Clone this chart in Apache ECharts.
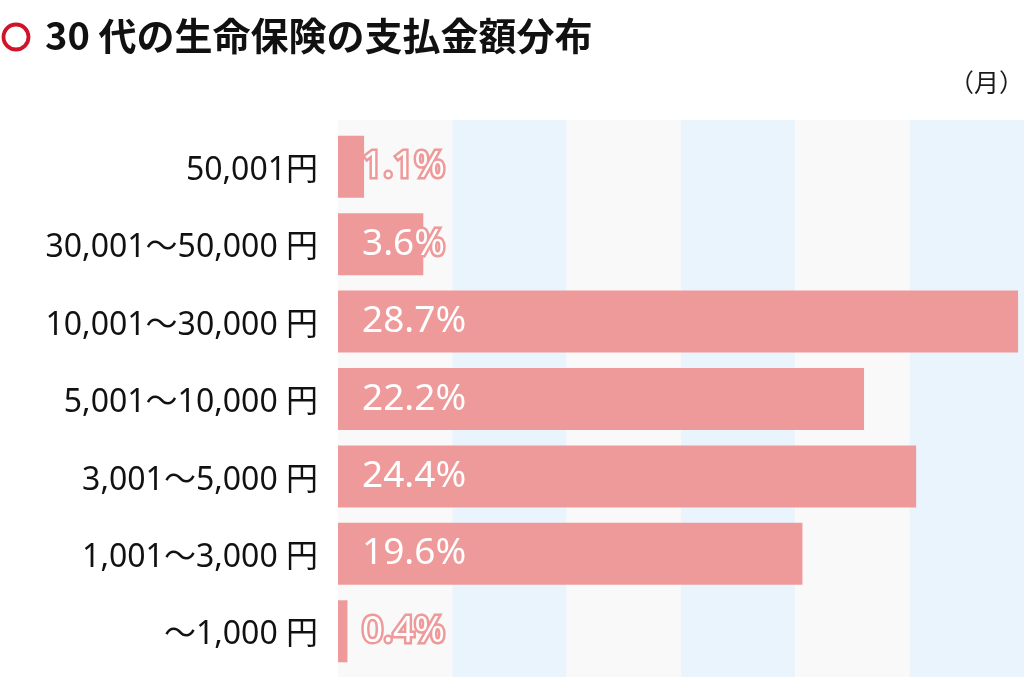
<!DOCTYPE html>
<html>
<head>
<meta charset="utf-8">
<script src="https://cdn.jsdelivr.net/npm/echarts@6/dist/echarts.min.js"></script>
<style>
html,body{margin:0;padding:0;background:#fff;}
#c{width:1024px;height:682px;}
</style>
</head>
<body>
<div id="c"></div>
<script>
const categories = ['50,001円', '30,001～50,000 円', '10,001～30,000 円', '5,001～10,000 円', '3,001～5,000 円', '1,001～3,000 円', '～1,000 円'];
const values = [1.1, 3.6, 28.7, 22.2, 24.4, 19.6, 0.4];
const titleText = '30 代の生命保険の支払金額分布';
const unitText = '（月）';

const AX_MAX = 28.95;
const BAND = AX_MAX / 6;
const FONT = '"Noto Sans", "Noto Sans CJK JP", sans-serif';
const TFONT = '"Noto Sans CJK JP", "Noto Sans", sans-serif';

const chart = echarts.init(document.getElementById('c'), null, {renderer: 'canvas'});
chart.setOption({
  animation: false,
  backgroundColor: '#ffffff',
  title: {
    text: titleText,
    left: 40, top: 12,
    textStyle: {fontFamily: TFONT, fontSize: 38, fontWeight: 'bold', color: '#111'}
  },
  graphic: [
    {type: 'circle', shape: {cx: 16, cy: 37, r: 12.5}, style: {fill: 'none', stroke: '#d0132b', lineWidth: 3.8}},
    {type: 'text', right: 0, top: 70, style: {text: unitText, font: '25px ' + TFONT, fill: '#1a1a1a'}}
  ],
  grid: [
    {left: 338, right: 0, top: 120, bottom: 5},
    {left: 338, right: 0, top: 128, bottom: 12}
  ],
  xAxis: [
    {gridIndex: 0, type: 'value', min: 0, max: AX_MAX, interval: BAND,
     axisLine: {show: false}, axisTick: {show: false}, axisLabel: {show: false},
     splitLine: {show: false},
     splitArea: {show: true, areaStyle: {color: ['#f9f9f9', '#eaf4fd']}}},
    {gridIndex: 1, type: 'value', min: 0, max: AX_MAX, interval: BAND,
     axisLine: {show: false}, axisTick: {show: false}, axisLabel: {show: false},
     splitLine: {show: false}, splitArea: {show: false}}
  ],
  yAxis: [
    {gridIndex: 0, type: 'value', min: 0, max: 1, show: false},
    {gridIndex: 1, type: 'category', data: categories, inverse: true,
     axisLine: {show: false}, axisTick: {show: false},
     axisLabel: {
       margin: 20,
       formatter: function (v) { return '{a|' + v + '}'; },
       rich: {a: {fontFamily: FONT, fontSize: 32, color: '#111', padding: [8, 0, 0, 0]}}
     }}
  ],
  series: [{
    type: 'bar',
    xAxisIndex: 1, yAxisIndex: 1,
    data: values,
    barWidth: 62,
    itemStyle: {color: '#ef9a9a'},
    label: {
      show: true,
      position: 'insideLeft',
      distance: 24,
      formatter: '{c}%',
      fontFamily: FONT,
      fontSize: 37,
      color: '#fff',
      textBorderColor: '#ef9a9a',
      textBorderWidth: 5
    }
  }]
});
</script>
</body>
</html>
